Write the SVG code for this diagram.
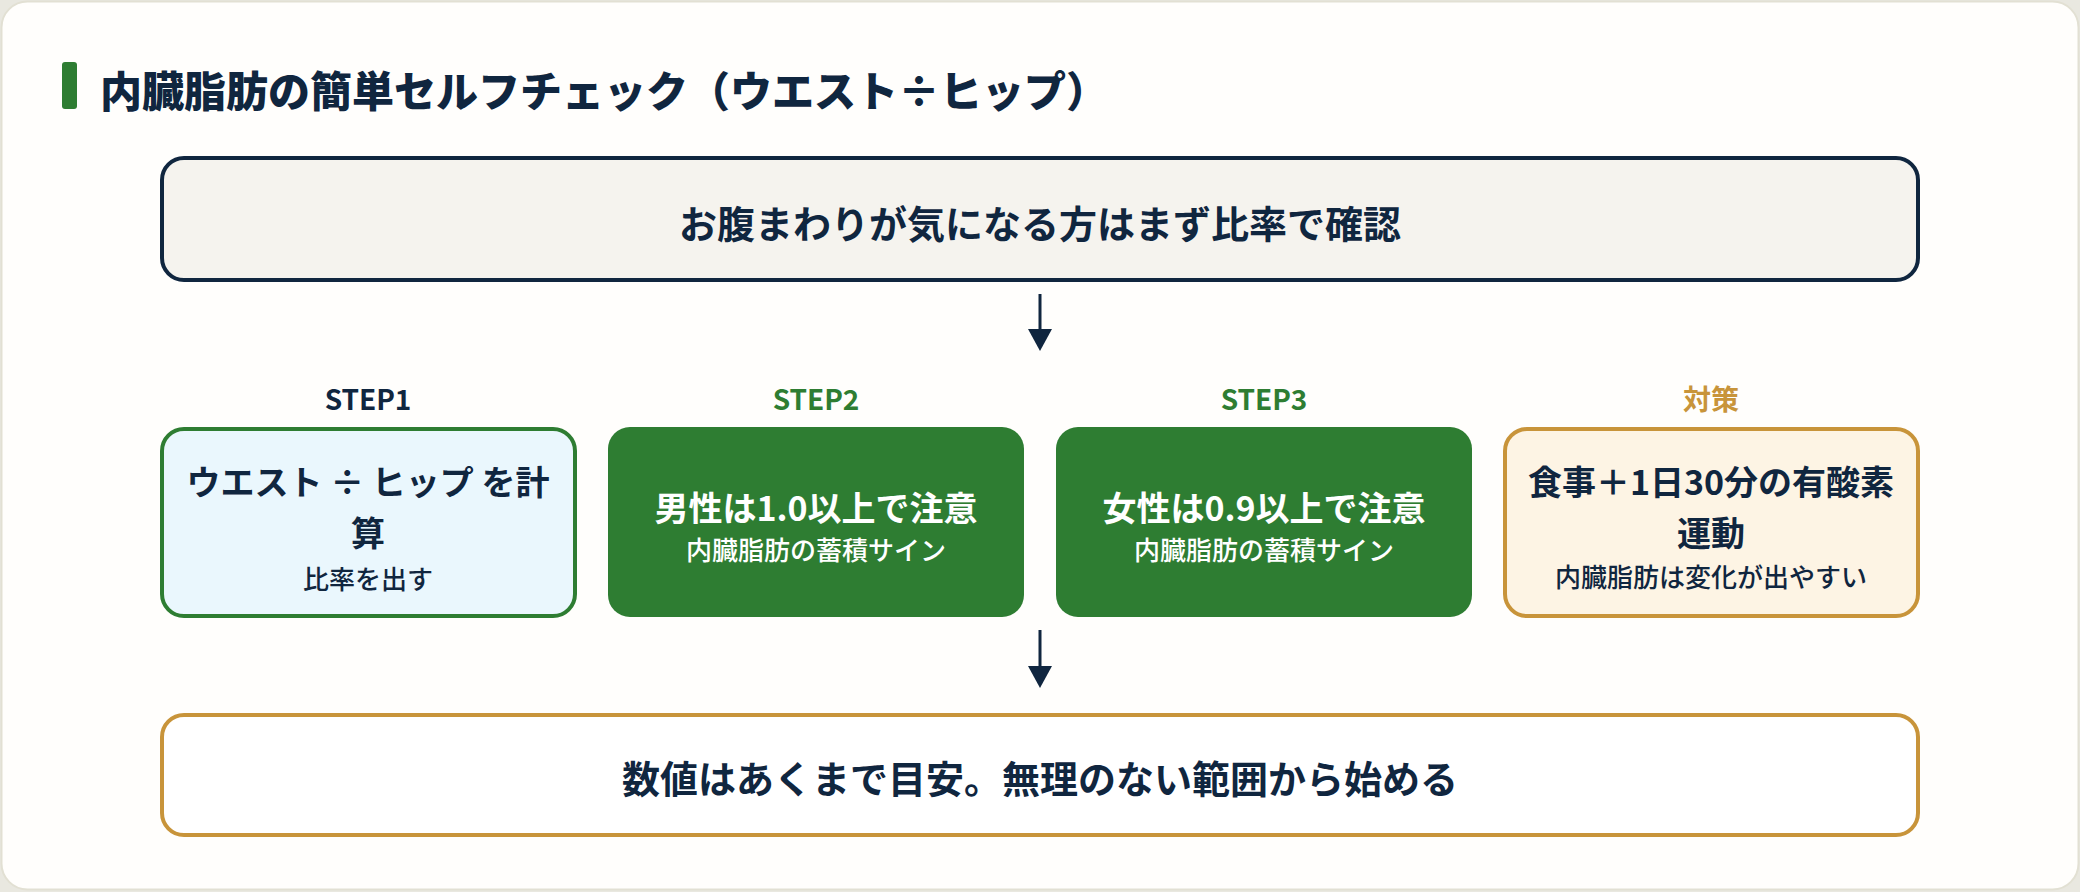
<svg xmlns="http://www.w3.org/2000/svg" width="2080" height="892" viewBox="0 0 2080 892">
<style>
text{font-family:"Noto Sans CJK JP","Noto Sans",sans-serif;font-weight:700;text-anchor:middle;dominant-baseline:central}
.navy{fill:#10263f}
.white{fill:#ffffff}
.big{font-size:34px}
.sub{font-size:26px;font-weight:500}
.lbl{font-size:28px}
.main{font-size:38px}
.conn{stroke:#10263f;stroke-width:3;fill:none}
</style>
<defs>
<marker id="ah" viewBox="0 0 22 24" refX="0" refY="12" markerWidth="22" markerHeight="24" markerUnits="userSpaceOnUse" orient="auto">
<path d="M0,0 L22,12 L0,24 Z" fill="#10263f"/>
</marker>
</defs>
<rect x="0" y="0" width="2080" height="892" fill="#e9e8e0"/>
<rect x="1.5" y="1.5" width="2077" height="888" rx="26" fill="#fffefc" stroke="#e2e0d3" stroke-width="2"/>
<g id="title">
<rect x="62" y="62" width="15" height="47" rx="3" fill="#2e7d32"/>
<text x="100" y="88" class="navy" style="font-size:42px;font-weight:900;text-anchor:start">内臓脂肪の簡単セルフチェック（ウエスト÷ヒップ）</text>
</g>
<g id="top">
<rect x="162" y="158" width="1756" height="122" rx="22" fill="#f5f3ee" stroke="#10263f" stroke-width="4"/>
<text x="1040" y="221" class="navy main">お腹まわりが気になる方はまず比率で確認</text>
</g>
<g id="step1">
<text x="368" y="398" class="lbl navy">STEP1</text>
<rect x="162" y="429" width="413" height="187" rx="22" fill="#eaf7fd" stroke="#2e7d32" stroke-width="4"/>
<text x="368" y="480" class="big navy">ウエスト ÷ ヒップ を計</text>
<text x="368" y="531" class="big navy">算</text>
<text x="368" y="577" class="sub navy">比率を出す</text>
</g>
<g id="step2">
<text x="816" y="398" class="lbl" fill="#2e7d32">STEP2</text>
<rect x="608" y="427" width="416" height="190" rx="22" fill="#2e7d32"/>
<text x="816" y="506" class="big white">男性は1.0以上で注意</text>
<text x="816" y="548" class="sub white">内臓脂肪の蓄積サイン</text>
</g>
<g id="step3">
<text x="1264" y="398" class="lbl" fill="#2e7d32">STEP3</text>
<rect x="1056" y="427" width="416" height="190" rx="22" fill="#2e7d32"/>
<text x="1264" y="506" class="big white">女性は0.9以上で注意</text>
<text x="1264" y="548" class="sub white">内臓脂肪の蓄積サイン</text>
</g>
<g id="taisaku">
<text x="1711" y="398" class="lbl" fill="#c8943a">対策</text>
<rect x="1505" y="429" width="413" height="187" rx="22" fill="#fdf4e4" stroke="#c8943a" stroke-width="4"/>
<text x="1711" y="480" class="big navy">食事＋1日30分の有酸素</text>
<text x="1711" y="531" class="big navy">運動</text>
<text x="1711" y="575" class="sub navy">内臓脂肪は変化が出やすい</text>
</g>
<g id="bottom">
<rect x="162" y="715" width="1756" height="120" rx="22" fill="#ffffff" stroke="#c8943a" stroke-width="4"/>
<text x="1040" y="776" class="navy main">数値はあくまで目安。無理のない範囲から始める</text>
</g>
<g id="connectors">
<line x1="1040" y1="294" x2="1040" y2="329" class="conn" marker-end="url(#ah)"/>
<line x1="1040" y1="630" x2="1040" y2="666" class="conn" marker-end="url(#ah)"/>
</g>
</svg>
